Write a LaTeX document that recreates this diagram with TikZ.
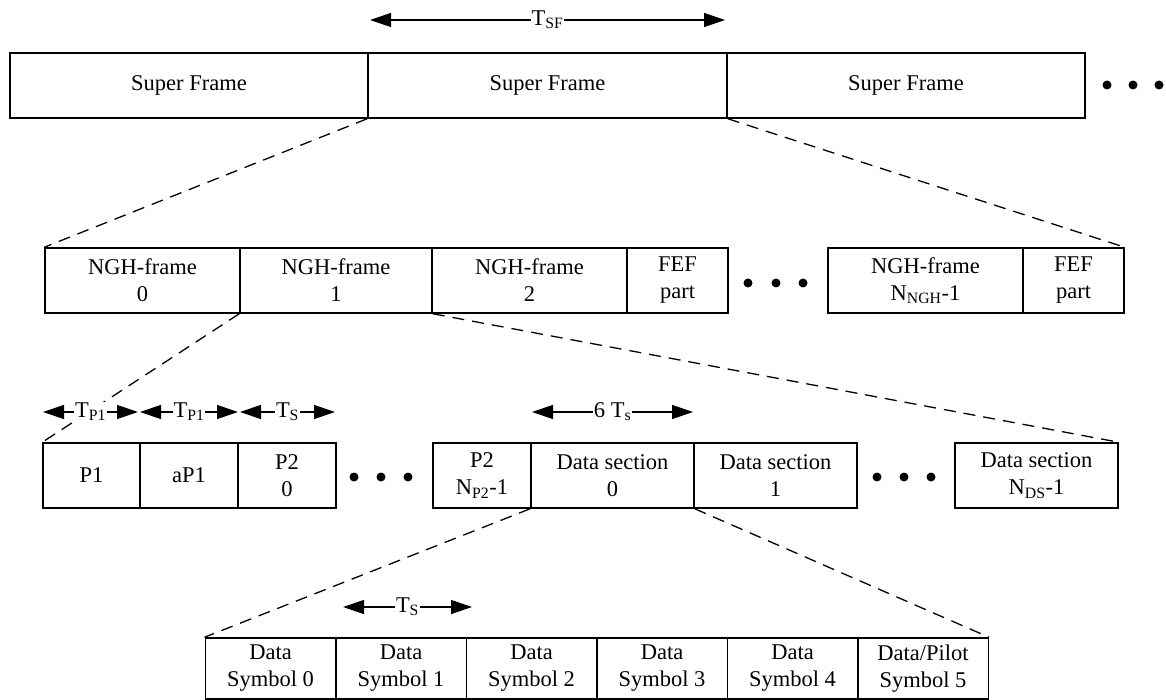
\documentclass[tikz,border=0pt]{standalone}
\usepackage{fontspec}
\setmainfont{Liberation Serif}
\usetikzlibrary{arrows.meta}
\begin{document}
\begin{tikzpicture}[x=1pt, y=-1pt,
  cell/.style={draw, line width=1.5pt, minimum height=65pt, inner sep=0pt, align=center, font=\fontsize{22.5}{27}\selectfont},
  dot/.style={circle, fill, inner sep=0pt, minimum size=9pt},
  span/.style={{Triangle[length=21pt,width=14pt]}-{Triangle[length=21pt,width=14pt]}, line width=1.3pt},
  lbl/.style={fill=white, inner sep=1pt, font=\fontsize{22.5}{27}\selectfont},
  zoomline/.style={dash pattern=on 12pt off 8pt, line width=1.3pt}]
\useasboundingbox (0,0) rectangle (1166,700);
% super frames
\node[cell, minimum width=358pt] (sf0) at (189,85.5){Super Frame};
\node[cell, minimum width=359pt] (sf1) at (547.5,85.5){Super Frame};
\node[cell, minimum width=358pt] (sf2) at (906,85.5){Super Frame};
\node[dot] (sfd0) at (1107,85){};
\node[dot] (sfd1) at (1133,85){};
\node[dot] (sfd2) at (1159,85){};
\coordinate (tsfl) at (370,20);
\coordinate (tsfr) at (725,20);
\draw[span] (tsfl) -- (tsfr) node[midway, lbl] (tsf){T\textsubscript{SF}};
% NGH frames
\node[cell, minimum width=195pt] (ngh0) at (142.5,280.5){NGH-frame\\0};
\node[cell, minimum width=192pt] (ngh1) at (336,280.5){NGH-frame\\1};
\node[cell, minimum width=195pt] (ngh2) at (529.5,280.5){NGH-frame\\2};
\node[cell, minimum width=101pt] (fef0) at (677.5,280.5){FEF\\part};
\node[dot] (nghd0) at (748,283){};
\node[dot] (nghd1) at (776,283){};
\node[dot] (nghd2) at (803,283){};
\node[cell, minimum width=195pt] (nghn) at (925.5,280.5){NGH-frame\\N\textsubscript{NGH}-1};
\node[cell, minimum width=101pt] (fef1) at (1073.5,280.5){FEF\\part};
\draw[zoomline] (sf1.south west) -- (ngh0.north west);
\draw[zoomline] (sf1.south east) -- (fef1.north east);
% preamble and data sections
\node[cell, minimum width=97pt] (p1) at (91.5,475.5){P1};
\node[cell, minimum width=98pt] (ap1) at (189,475.5){aP1};
\node[cell, minimum width=98pt] (p2a) at (287,475.5){P2\\0};
\node[dot] (pd0) at (354,477){};
\node[dot] (pd1) at (381,477){};
\node[dot] (pd2) at (408,477){};
\node[cell, minimum width=98pt] (p2n) at (482,475.5){P2\\N\textsubscript{P2}-1};
\node[cell, minimum width=163pt] (ds0) at (612.5,475.5){Data section\\0};
\node[cell, minimum width=163pt] (ds1) at (775.5,475.5){Data section\\1};
\node[dot] (dsd0) at (877,477){};
\node[dot] (dsd1) at (904,477){};
\node[dot] (dsd2) at (931,477){};
\node[cell, minimum width=163pt] (dsn) at (1036.5,475.5){Data section\\N\textsubscript{DS}-1};
\draw[zoomline] (ngh1.south west) -- (p1.north west);
\draw[zoomline] (ngh1.south east) -- (dsn.north east);
\coordinate (tp1l) at (43,412);
\coordinate (tp1r) at (138,412);
\coordinate (tp2l) at (140,412);
\coordinate (tp2r) at (238,412);
\coordinate (tsl) at (240,412);
\coordinate (tsr) at (335,412);
\coordinate (t6l) at (532,412);
\coordinate (t6r) at (693,412);
\draw[span] (tp1l) -- (tp1r) node[midway, lbl] (tp1){T\textsubscript{P1}};
\draw[span] (tp2l) -- (tp2r) node[midway, lbl] (tp2){T\textsubscript{P1}};
\draw[span] (tsl) -- (tsr) node[midway, lbl] (ts){T\textsubscript{S}};
\draw[span] (t6l) -- (t6r) node[midway, lbl] (t6){6 T\textsubscript{s}};
% data symbols
\foreach \i/\x/\t in {0/270.5/Data, 1/401/Data, 2/531.5/Data, 3/662/Data, 4/792.5/Data, 5/923/Data\slash Pilot}
  \node[cell, minimum width=130.5pt, minimum height=61pt] (sym\i) at (\x,668.5){\t\\Symbol \i};
\draw[zoomline] (ds0.south west) -- (sym0.north west);
\draw[zoomline] (ds0.south east) -- (sym5.north east);
\coordinate (tssl) at (343,607);
\coordinate (tssr) at (472,607);
\draw[span] (tssl) -- (tssr) node[midway, lbl] (tss){T\textsubscript{S}};
\end{tikzpicture}
\end{document}
